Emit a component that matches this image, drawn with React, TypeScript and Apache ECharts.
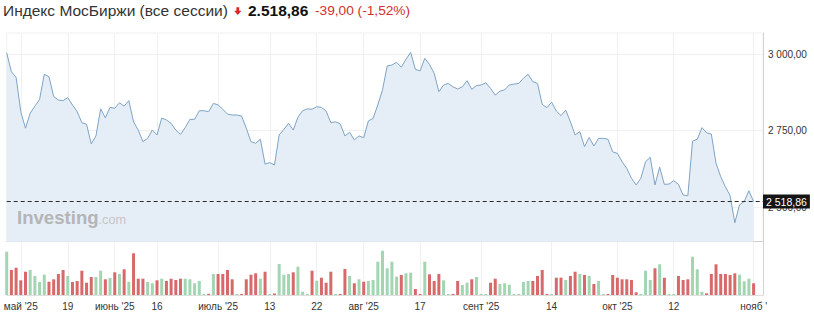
import React, { useEffect, useRef } from 'react';
import * as echarts from 'echarts';

// Index MOEX (all sessions), daily closes
const prices: number[] = [
  3004, 2942, 2924, 2812, 2758, 2807, 2830, 2852, 2934, 2926,
  2861, 2850, 2848, 2858, 2834, 2812, 2776, 2771, 2707, 2733,
  2821, 2792, 2826, 2823, 2841, 2830, 2848, 2779, 2752, 2714,
  2725, 2752, 2736, 2791, 2785, 2774, 2752, 2738, 2760, 2787,
  2787, 2815, 2815, 2812, 2839, 2834, 2820, 2804, 2801, 2801,
  2798, 2758, 2714, 2709, 2722, 2641, 2646, 2638, 2736, 2754,
  2774, 2752, 2794, 2815, 2821, 2820, 2828, 2826, 2814, 2776,
  2779, 2772, 2733, 2745, 2720, 2733, 2727, 2782, 2790, 2834,
  2883, 2961, 2964, 2973, 2957, 2983, 3005, 2950, 2945, 2986,
  2966, 2937, 2877, 2899, 2904, 2893, 2886, 2893, 2913, 2885,
  2897, 2899, 2906, 2888, 2866, 2879, 2883, 2899, 2902, 2904,
  2921, 2934, 2910, 2904, 2836, 2825, 2843, 2814, 2799, 2817,
  2779, 2736, 2747, 2698, 2728, 2700, 2725, 2725, 2722, 2681,
  2676, 2649, 2627, 2595, 2573, 2595, 2649, 2663, 2573, 2631,
  2575, 2576, 2587, 2575, 2540, 2538, 2716, 2722, 2760, 2743,
  2739, 2644, 2600, 2567, 2538, 2450, 2508, 2519, 2554, 2518.86,
];

// relative traded volume per day (bar heights)
const volumes: number[] = [
  43.3, 25, 27.3, 14.7, 23.3, 25, 19, 13, 20.3, 13.3,
  15.7, 21, 25, 19, 13, 14, 24.3, 12.3, 18, 18,
  24.3, 15.7, 17, 22.7, 21, 25.7, 13.3, 41.7, 16.3, 16.3,
  13, 11.7, 14.7, 16.3, 14, 16.3, 15, 16.3, 16.3, 15.7,
  11.7, 14, 1, 1.2, 21, 21, 21, 25, 15.7, 1,
  1, 15.7, 20.3, 21.7, 16.3, 23.3, 1, 1.5, 31, 20.3,
  21, 22.7, 28.3, 3.3, 1, 24.3, 14.3, 17.3, 12.3, 23.3,
  1, 1, 26, 19, 11.7, 15.7, 13.3, 14, 15, 33.3,
  44.3, 26.7, 33.3, 18.3, 20, 21.7, 22.3, 6, 1, 33.3,
  20.7, 14, 21, 14.7, 1, 1, 14, 10, 12.3, 15.7,
  18, 1, 1, 12.3, 16.3, 11, 11.7, 10.3, 1, 1,
  13, 14, 14, 19, 25, 1, 1, 17.3, 17.3, 15,
  19, 23.3, 21, 20, 19, 11, 14, 1, 1, 20,
  17.3, 15.7, 15.7, 15, 2.7, 1, 24.3, 15, 26.7, 30.7,
  17.3, 1, 1, 19, 15, 15.7, 38.3, 25.7, 3.3, 1.7,
  21, 30.7, 21, 21, 20, 21.7, 20.3, 13.7, 16.3, 11.7,
];

const tickIndex: number[] = [3, 13, 23, 32, 45, 56, 66, 76, 88, 101, 116, 130, 142, 159];
const tickLabels: string[] = [
  "май '25", '19', "июнь '25", '16', "июль '25", '13', '22', "авг '25", '17',
  "сент '25", '14', "окт '25", '12', "нояб '",
];
const priceTicks: number[] = [2500, 2750, 3000];

const titleText = 'Индекс МосБиржи (все сессии)';
const lastPrice = 2518.86;
const lastPriceText = '2.518,86';
const changeText = '-39,00 (-1,52%)';

const CATEGORY_COUNT = 162;
const GREEN = '#a3d5b2';
const RED = '#d8696b';
const FONT = 'Liberation Sans, Arial, sans-serif';

const fmt = (v: number) => {
  const [i, d] = v.toFixed(2).split('.');
  return i.replace(/\B(?=(\d{3})+(?!\d))/g, ' ') + ',' + d;
};

const labelAt: Record<number, string> = {};
tickIndex.forEach((t, k) => {
  labelAt[t] = tickLabels[k];
});
const isTick = (i: number) => labelAt[i] !== undefined;
const categories = Array.from({ length: CATEGORY_COUNT }, (_, i) => String(i));

function buildOption(): any {
  const barData = volumes.map((v, i) => ({
    value: v,
    itemStyle: { color: i === 0 || prices[i] >= prices[i - 1] ? GREEN : RED },
  }));

  return {
    animation: false,
    textStyle: { fontFamily: FONT },
    grid: [
      { left: 6.7, right: 51, top: 33, height: 208.7, show: true, borderColor: '#f1f1f1', borderWidth: 1 },
      { left: 6.7, right: 51, top: 241.7, height: 53.3 },
    ],
    xAxis: [
      {
        type: 'category',
        gridIndex: 0,
        data: categories,
        boundaryGap: false,
        axisLine: { lineStyle: { color: '#d2d2d2' } },
        axisTick: { show: false },
        axisLabel: { show: false },
        splitLine: { show: true, interval: (i: number) => isTick(i), lineStyle: { color: '#f0f0f0' } },
      },
      {
        type: 'category',
        gridIndex: 1,
        data: categories,
        boundaryGap: false,
        axisLine: { lineStyle: { color: '#dedede' } },
        axisTick: { show: false },
        axisLabel: {
          interval: (i: number) => isTick(i),
          formatter: (_v: string, i: number) => labelAt[i] ?? '',
          color: '#333',
          fontSize: 10,
          margin: 6,
          fontFamily: FONT,
        },
        splitLine: { show: true, interval: (i: number) => isTick(i), lineStyle: { color: '#f0f0f0' } },
      },
    ],
    yAxis: [
      {
        type: 'value',
        gridIndex: 0,
        position: 'right',
        min: 2388,
        max: 3068.5,
        axisLine: { show: true, lineStyle: { color: '#d2d2d2' } },
        axisTick: { show: false, customValues: priceTicks },
        axisLabel: { customValues: priceTicks, formatter: fmt, color: '#333', fontSize: 10, margin: 5, fontFamily: FONT },
        splitLine: { show: true, lineStyle: { color: '#f0f0f0' } },
      },
      {
        type: 'value',
        gridIndex: 1,
        position: 'right',
        min: 0,
        max: 53.3,
        axisLine: { show: true, lineStyle: { color: '#d2d2d2' } },
        axisTick: { show: false },
        axisLabel: { show: false },
        splitLine: { show: false },
      },
    ],
    series: [
      {
        type: 'line',
        xAxisIndex: 0,
        yAxisIndex: 0,
        data: prices,
        symbol: 'none',
        lineStyle: { color: '#7ea3c5', width: 1 },
        areaStyle: { color: '#e5eef7', opacity: 1 },
        z: 2,
        markLine: {
          silent: true,
          symbol: ['none', 'none'],
          data: [{ yAxis: lastPrice }],
          lineStyle: { color: '#2b2b2b', type: [4, 3], width: 1 },
          label: {
            position: 'end',
            formatter: fmt(lastPrice),
            color: '#fff',
            backgroundColor: '#151515',
            fontSize: 10.5,
            fontFamily: FONT,
            padding: [2, 3, 1, 3],
            distance: 0,
          },
          emphasis: { disabled: true },
        },
      },
      {
        type: 'bar',
        xAxisIndex: 1,
        yAxisIndex: 1,
        data: barData,
        barWidth: 3,
        clip: false,
      },
    ],
    graphic: [
      {
        type: 'text',
        x: 3,
        y: 10.6,
        style: { text: titleText, fill: '#333', fontSize: 15.5, fontFamily: FONT, verticalAlign: 'middle', align: 'left' },
      },
      {
        type: 'polygon',
        shape: {
          points: [
            [236.4, 7.2], [239.2, 7.2], [239.2, 10.8], [241.4, 10.8],
            [237.8, 15], [234.2, 10.8], [236.4, 10.8],
          ],
        },
        style: { fill: '#e0241f' },
      },
      {
        type: 'text',
        x: 248,
        y: 10.6,
        style: { text: lastPriceText, fill: '#111', fontSize: 15.5, fontWeight: 'bold', fontFamily: FONT, verticalAlign: 'middle', align: 'left' },
      },
      {
        type: 'text',
        x: 315,
        y: 10.8,
        style: { text: changeText, fill: '#d0312d', fontSize: 13.7, fontFamily: FONT, verticalAlign: 'middle', align: 'left' },
      },
      {
        type: 'text',
        x: 17,
        y: 217.8,
        z: 10,
        style: { text: 'Investing', fill: '#b5b5b5', fontSize: 18.6, fontWeight: 'bold', fontFamily: FONT, verticalAlign: 'middle', align: 'left' },
      },
      {
        type: 'text',
        x: 98.5,
        y: 219.8,
        z: 10,
        style: { text: '.com', fill: '#c6c6c6', fontSize: 12.8, fontFamily: FONT, verticalAlign: 'middle', align: 'left' },
      },
    ],
  };
}

export default function App() {
  const ref = useRef<HTMLDivElement>(null);
  useEffect(() => {
    document.body.style.margin = '0';
    if (!ref.current) return;
    const chart = echarts.init(ref.current, undefined, { renderer: 'svg' });
    chart.setOption(buildOption());
    return () => chart.dispose();
  }, []);
  return (
    <div
      ref={ref}
      style={{ position: 'absolute', left: 0, top: 0, width: 814, height: 312, background: '#fff' }}
    />
  );
}
